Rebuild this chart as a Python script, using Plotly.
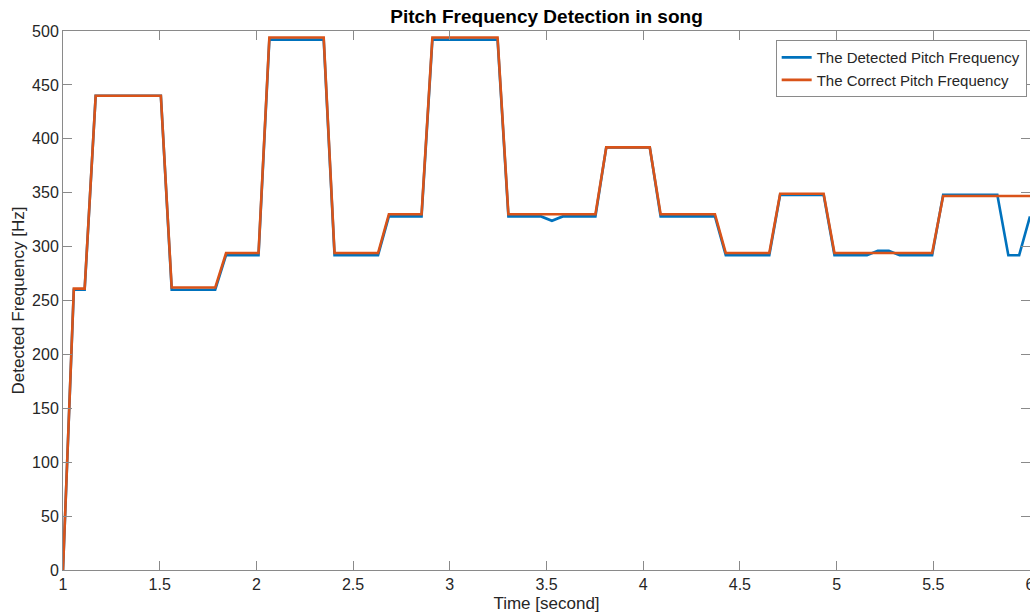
import plotly.graph_objects as go

# Breakpoints of the two piecewise-linear curves (time in seconds, frequency in Hz)
time_correct = [1.000, 1.056, 1.112, 1.169, 1.506, 1.562, 1.787, 1.843, 2.011, 2.067,
                2.348, 2.404, 2.629, 2.685, 2.854, 2.910, 3.247, 3.303, 3.753, 3.809,
                4.034, 4.090, 4.371, 4.427, 4.652, 4.708, 4.933, 4.989, 5.494, 5.551, 6.000]
freq_correct = [0, 261, 261, 440, 440, 262, 262, 294, 294, 494,
                494, 294, 294, 330, 330, 494, 494, 330, 330, 392,
                392, 330, 330, 294, 294, 349, 349, 294, 294, 347, 347]

time_detected = [1.000, 1.056, 1.112, 1.169, 1.506, 1.562, 1.787, 1.843, 2.011, 2.067,
                 2.348, 2.404, 2.629, 2.685, 2.854, 2.910, 3.247, 3.303, 3.472, 3.528,
                 3.584, 3.753, 3.809, 4.034, 4.090, 4.371, 4.427, 4.652, 4.708, 4.933,
                 4.989, 5.157, 5.213, 5.270, 5.326, 5.494, 5.551, 5.831, 5.888, 5.944, 6.000]
freq_detected = [0, 260, 260, 440, 440, 260, 260, 292, 292, 492,
                 492, 292, 292, 328, 328, 492, 492, 328, 328, 324,
                 328, 328, 392, 392, 328, 328, 292, 292, 348, 348,
                 292, 292, 296, 296, 292, 292, 348, 348, 292, 292, 328]

x_ticks = [1, 1.5, 2, 2.5, 3, 3.5, 4, 4.5, 5, 5.5, 6]
y_ticks = [0, 50, 100, 150, 200, 250, 300, 350, 400, 450, 500]

BLUE = "#0072BD"
ORANGE = "#D95319"
AXIS = "#8a8a8a"
TEXT = "#262626"
FONT = "Liberation Sans, Arial, Helvetica, sans-serif"

fig = go.Figure()
fig.add_trace(go.Scatter(x=time_detected, y=freq_detected, mode="lines",
                         name="The Detected Pitch Frequency",
                         line=dict(color=BLUE, width=2.6)))
fig.add_trace(go.Scatter(x=time_correct, y=freq_correct, mode="lines",
                         name="The Correct Pitch Frequency",
                         line=dict(color=ORANGE, width=2.6)))

axis_common = dict(showgrid=False, zeroline=False, showline=True, linecolor=AXIS,
                   linewidth=1, mirror="ticks", ticks="inside", ticklen=9,
                   tickcolor=AXIS, tickwidth=1, ticklabeloverflow="allow",
                   tickfont=dict(family=FONT, size=16, color=TEXT))

fig.update_layout(
    width=1030, height=614,
    margin=dict(l=63, r=0, t=31, b=44, autoexpand=False),
    paper_bgcolor="white", plot_bgcolor="white",
    font=dict(family=FONT, color=TEXT),
    title=dict(text="<b>Pitch Frequency Detection in song</b>",
               x=0.5, xref="paper", xanchor="center",
               y=1, yref="paper", yanchor="bottom", pad=dict(b=8),
               font=dict(family=FONT, size=19, color="black")),
    xaxis=dict(range=[1, 6], tickvals=x_ticks, ticktext=[f"{v:g}" for v in x_ticks],
               automargin=False,
               title=dict(text="Time [second]", standoff=4,
                          font=dict(family=FONT, size=17, color=TEXT)),
               **axis_common),
    yaxis=dict(range=[0, 500], tickvals=y_ticks, ticktext=[str(v) for v in y_ticks],
               automargin=False,
               title=dict(text="Detected Frequency [Hz]", standoff=3,
                          font=dict(family=FONT, size=17, color=TEXT)),
               **axis_common),
    legend=dict(x=0.737, y=0.983, xanchor="left", yanchor="top",
                bordercolor=AXIS, borderwidth=1, bgcolor="white",
                font=dict(family=FONT, size=15, color=TEXT),
                itemwidth=30, tracegroupgap=0),
    showlegend=True,
)

fig.write_html(
    "out.html",
    config={"displayModeBar": False},
    post_script="document.body.style.margin='0';document.body.style.overflow='hidden';",
)
